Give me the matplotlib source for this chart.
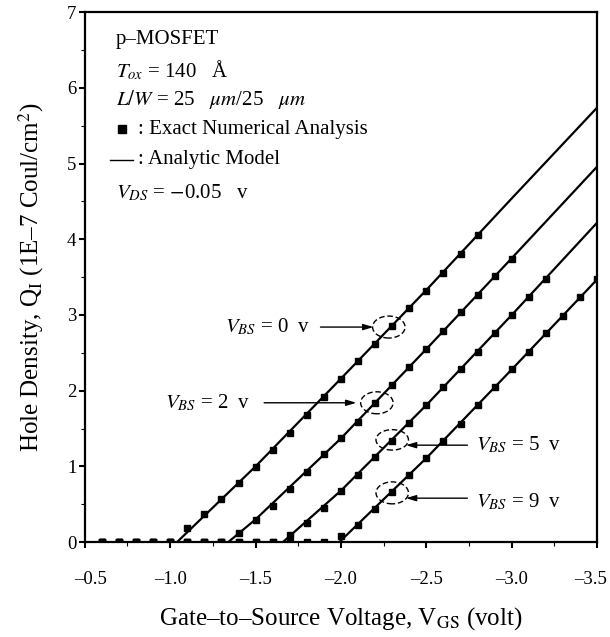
import matplotlib
matplotlib.use("Agg")
import matplotlib.pyplot as plt
from matplotlib.patches import Ellipse
from matplotlib.lines import Line2D
import matplotlib.transforms as mtransforms

plt.rcParams['font.family'] = ['Liberation Serif', 'DejaVu Serif']
plt.rcParams['mathtext.fontset'] = 'stix'

# ---- data ----
vgs_grid = [-0.6, -0.7, -0.8, -0.9, -1.0, -1.1, -1.2, -1.3, -1.4, -1.5,
            -1.6, -1.7, -1.8, -1.9, -2.0, -2.1, -2.2, -2.3, -2.4, -2.5,
            -2.6, -2.7, -2.8, -2.9, -3.0, -3.1, -3.2, -3.3, -3.4, -3.5]

q_exact_vbs0 = [0, 0, 0, 0, 0, 0.18, 0.37, 0.57, 0.78, 0.99, 1.22, 1.44, 1.68,
                1.92, 2.16, 2.39, 2.62, 2.86, 3.09, 3.32, 3.56, 3.81, 4.05]
q_exact_vbs2 = [0, 0, 0, 0, 0, 0, 0, 0, 0.12, 0.29, 0.48, 0.70, 0.93, 1.16,
                1.37, 1.59, 1.84, 2.08, 2.31, 2.55, 2.79, 3.04, 3.27, 3.51, 3.74]
q_exact_vbs5 = [0, 0, 0, 0, 0, 0, 0, 0, 0, 0, 0, 0.09, 0.25, 0.45, 0.68, 0.89,
                1.12, 1.34, 1.57, 1.81, 2.05, 2.29, 2.51, 2.76, 3.00, 3.24, 3.48]
q_exact_vbs9 = [0, 0, 0, 0, 0, 0, 0, 0, 0, 0, 0, 0, 0, 0, 0.08, 0.22, 0.44,
                0.66, 0.88, 1.11, 1.33, 1.56, 1.81, 2.05, 2.28, 2.51, 2.76,
                2.99, 3.24, 3.47]

model_vgs_vbs0 = [-1.04, -1.5, -2.0, -2.5, -3.0, -3.5]
model_q_vbs0 = [0, 1.00, 2.16, 3.33, 4.54, 5.74]
model_vgs_vbs2 = [-1.34, -1.5, -2.0, -2.5, -3.0, -3.5]
model_q_vbs2 = [0, 0.30, 1.37, 2.55, 3.75, 4.96]
model_vgs_vbs5 = [-1.66, -2.0, -2.5, -3.0, -3.5]
model_q_vbs5 = [0, 0.68, 1.81, 3.00, 4.22]
model_vgs_vbs9 = [-1.99, -2.5, -3.0, -3.5]
model_q_vbs9 = [0, 1.11, 2.28, 3.47]

x_ticks = [-0.5, -1.0, -1.5, -2.0, -2.5, -3.0, -3.5]
x_tick_labels = ['\u20130.5', '\u20131.0', '\u20131.5', '\u20132.0', '\u20132.5', '\u20133.0', '\u20133.5']
y_ticks = [0, 1, 2, 3, 4, 5, 6, 7]

# ---- figure ----
fig = plt.figure(figsize=(6.10, 6.37), dpi=100)
ax = fig.add_axes([0.139, 0.149, 0.840, 0.832])

exact = [q_exact_vbs0, q_exact_vbs2, q_exact_vbs5, q_exact_vbs9]
models = [(model_vgs_vbs0, model_q_vbs0), (model_vgs_vbs2, model_q_vbs2),
          (model_vgs_vbs5, model_q_vbs5), (model_vgs_vbs9, model_q_vbs9)]

for (mx, my) in models:
    ax.plot(mx, my, color='black', lw=1.6, solid_capstyle='butt')
for q in exact:
    ax.plot(vgs_grid[:len(q)], q, linestyle='none', marker='s', ms=4.3,
            color='black', mec='black')

ax.set_xlim(-0.5, -3.5)
ax.set_ylim(0, 7)
ax.set_xticks(x_ticks)
ax.set_xticklabels(x_tick_labels)
ax.set_xticks([-0.75, -1.25, -1.75, -2.25, -2.75, -3.25], minor=True)
ax.set_yticks(y_ticks)
ax.set_yticks([0.5, 1.5, 2.5, 3.5, 4.5, 5.5, 6.5], minor=True)
ax.tick_params(which='major', direction='out', length=4, width=1.5,
               labelsize=13.5, pad=2)
ax.tick_params(which='minor', direction='out', length=3, width=0.8)
ax.tick_params(axis='x', which='major', pad=17)
for s in ax.spines.values():
    s.set_linewidth(1.6)

# nudge the outermost x tick labels inwards like the reference
xlabels = ax.get_xticklabels()
xlabels[0].set_transform(xlabels[0].get_transform() +
                         mtransforms.ScaledTranslation(6/100, 0, fig.dpi_scale_trans))
xlabels[-1].set_transform(xlabels[-1].get_transform() +
                          mtransforms.ScaledTranslation(-7/100, 0, fig.dpi_scale_trans))

ax.set_xlabel('Gate\u2013to\u2013Source Voltage, V$_\\mathrm{GS}$ (volt)',
              fontsize=18, labelpad=12)
ax.set_ylabel('Hole Density, Q$_\\mathrm{I}$ (1E\u20137 Coul/cm$^\\mathrm{2}$)',
              fontsize=18, labelpad=15)

# ---- text block ----
tx = -0.68
fs = 15
ax.text(tx, 6.64, 'p\u2013MOSFET', fontsize=fs, va='center')
ax.text(tx, 6.23, '$T_{ox}$ = 140   \u00c5', fontsize=fs, va='center')
ax.text(tx, 5.85, '$L/W$ = 25   $\\mu m$/25   $\\mu m$', fontsize=fs, va='center')
ax.plot([-0.72], [5.45], marker='s', ms=5.5, color='black', clip_on=False)
ax.text(-0.81, 5.45, ': Exact Numerical Analysis', fontsize=15, va='center')
ax.add_line(Line2D([-0.65, -0.78], [5.05, 5.05], color='black', lw=1.0))
ax.text(-0.81, 5.05, ': Analytic Model', fontsize=15, va='center')
ax.text(tx, 4.61, '$V_{DS}$ = $-$0.05   v', fontsize=fs, va='center')

# ---- annotations ----
arrow = dict(arrowstyle='-|>,head_length=0.6,head_width=0.18', color='black',
             lw=1.0, shrinkA=0, shrinkB=0)
ax.text(-1.82, 2.84, '$V_{BS}$ = 0  v', fontsize=fs, va='center', ha='right')
ax.annotate('', xy=(-2.19, 2.84), xytext=(-1.88, 2.84), arrowprops=arrow)
ax.add_patch(Ellipse((-2.28, 2.84), 0.19, 0.29, fill=False, ls=(0, (4, 2)), lw=1.0))

ax.text(-1.47, 1.84, '$V_{BS}$ = 2  v', fontsize=fs, va='center', ha='right')
ax.annotate('', xy=(-2.09, 1.84), xytext=(-1.55, 1.84), arrowprops=arrow)
ax.add_patch(Ellipse((-2.21, 1.84), 0.19, 0.29, fill=False, ls=(0, (4, 2)), lw=1.0))

ax.text(-2.79, 1.28, '$V_{BS}$ = 5  v', fontsize=fs, va='center', ha='left')
ax.annotate('', xy=(-2.38, 1.28), xytext=(-2.74, 1.28), arrowprops=arrow)
ax.add_patch(Ellipse((-2.30, 1.35), 0.19, 0.27, fill=False, ls=(0, (4, 2)), lw=1.0))

ax.text(-2.79, 0.53, '$V_{BS}$ = 9  v', fontsize=fs, va='center', ha='left')
ax.annotate('', xy=(-2.38, 0.58), xytext=(-2.74, 0.58), arrowprops=arrow)
ax.add_patch(Ellipse((-2.30, 0.65), 0.19, 0.29, fill=False, ls=(0, (4, 2)), lw=1.0))

fig.savefig('out.png', dpi=100)
